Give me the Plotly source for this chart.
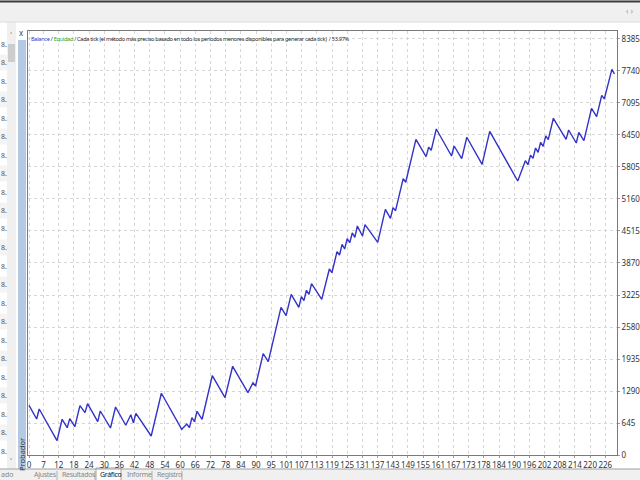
import plotly.graph_objects as go
import numpy as np

# ---- data ----
trade = [0, 3, 4, 11, 13, 15, 16, 18, 20, 22, 23, 27, 28, 32, 34, 38, 40, 41, 42, 48,
         52, 60, 62, 63, 64, 65, 66, 68, 72, 77, 80, 86, 88, 89, 92, 94, 99, 101, 103, 106,
         107, 108, 109, 110, 111, 115, 118, 119, 121, 122, 123, 124, 125, 126, 127, 128, 129, 131, 132, 137,
         140, 142, 143, 144, 147, 148, 152, 156, 157, 158, 160, 166, 167, 170, 172, 178, 181, 192, 195, 196,
         197, 198, 199, 200, 201, 202, 203, 204, 206, 211, 212, 215, 216, 218, 221, 223, 225, 226, 229, 230]
balance = [1000, 726, 927, 288, 720, 550, 732, 570, 994, 853, 1034, 671, 887, 544, 967, 599, 812, 651, 840, 383,
           1244, 518, 625, 550, 752, 671, 881, 720, 1598, 1155, 1788, 1256, 1457, 1391, 2042, 1881, 2977, 2808, 3239, 2977,
           3191, 3110, 3320, 3239, 3453, 3138, 3749, 3674, 4098, 4031, 4247, 4152, 4360, 4279, 4475, 4388, 4616, 4414, 4642, 4287,
           4952, 4771, 4985, 4924, 5569, 5497, 6363, 6013, 6202, 6141, 6571, 6027, 6228, 5972, 6404, 5859, 6524, 5523, 5932, 5851,
           6041, 5980, 6188, 6101, 6303, 6222, 6430, 6355, 6787, 6363, 6551, 6289, 6504, 6335, 6988, 6819, 7250, 7176, 7774, 7679]
x_tick_labels = ["0", "7", "12", "18", "24", "30", "36", "42", "48", "54", "60", "66", "72", "78", "84", "90", "95",
                 "101", "107", "113", "119", "125", "131", "137", "143", "149", "155", "161", "167", "173", "178",
                 "184", "190", "196", "202", "208", "214", "220", "226"]
y_tick_values = [0, 645, 1290, 1935, 2580, 3225, 3870, 4515, 5160, 5805, 6450, 7095, 7740, 8385]
tabs = ["Ajustes", "Resultados", "Gráfico", "Informe", "Registro"]
title_pct = "53.97%"

assert len(trade) == len(balance)

FONT = "Noto Sans, Liberation Sans, Arial, sans-serif"
W, H = 640, 480
L, R, T, B = 28, 617, 31, 455


def px(x):
    return (x - L) / (R - L)


def py(y):
    return (B - y) / (B - T)


def tight(s, sp=0.0):
    return '<span style="font-stretch:extra-condensed;letter-spacing:%spx">%s</span>' % (sp, s)


fig = go.Figure()
fig.add_trace(go.Scatter(x=trade, y=balance, mode="lines",
                         line=dict(color="#3333c8", width=1.4), hoverinfo="skip"))

# uniform tick spacing like the terminal's axis
tickpos = [0] + list(np.linspace(5.7, 226.4, len(x_tick_labels) - 1))

shapes = []
annots = []


def rect(x0, y0, x1, y1, fill, line=None):
    shapes.append(dict(type="rect", xref="paper", yref="paper",
                       x0=px(x0), x1=px(x1), y0=py(y1), y1=py(y0),
                       fillcolor=fill, line=dict(width=1 if line else 0, color=line or fill),
                       layer="below"))


def hline(x0, x1, y, color, w=1):
    shapes.append(dict(type="line", xref="paper", yref="paper",
                       x0=px(x0), x1=px(x1), y0=py(y), y1=py(y), line=dict(color=color, width=w)))


def text(x, y, s, size=8, color="#333", xanchor="left", angle=0, bg=None):
    d = dict(xref="paper", yref="paper", x=px(x), y=py(y), text=s, showarrow=False,
             xanchor=xanchor, yanchor="middle", textangle=angle,
             font=dict(family=FONT, size=size, color=color), borderpad=0)
    if bg:
        d["bgcolor"] = bg
    annots.append(d)


# top bar
rect(0, 0, 640, 22, "#f0f0f0")
hline(0, 640, 1.5, "#3c3c3c", 2)
hline(0, 640, 22, "#dcdcdc", 1)
text(630, 11, "‹ ›", size=8, color="#999", xanchor="center")

# left panel
rect(0, 22, 17, 470, "#ffffff")
for i in range(24):
    yy = 44 + i * 18.5
    if yy > 455:
        break
    rect(0, yy - 8, 7, yy + 8, "#f4f4f4" if i % 2 else "#ffffff")
    text(0, yy, tight("8."), size=7, color="#555")
rect(7, 22, 16, 470, "#f0f0f0")
rect(8, 44, 15, 62, "#cdcdcd")
text(11.5, 35, "˄", size=8, color="#666", xanchor="center")
text(11.5, 461, "˅", size=8, color="#666", xanchor="center")
text(21.5, 32, "x", size=8, color="#444", xanchor="center")
rect(18, 40, 26, 480, "#b4c9e3")
text(22, 455, tight("Probador"), size=7.5, color="#333", xanchor="center", angle=-90)

# bottom tab bar
rect(0, 469, 640, 480, "#f0f0f0")
hline(0, 640, 469, "#a0a0a0", 1)
rect(96, 468, 121, 481, "#ffffff", "#a0a0a0")
tab_x = [33, 61, 99, 126, 156]
for s, tx in zip(tabs, tab_x):
    text(tx, 474.5, tight(s, -0.3), size=7, color="#111" if s == "Gráfico" else "#888")
for sx in [57, 95, 152, 182]:
    shapes.append(dict(type="line", xref="paper", yref="paper", x0=px(sx), x1=px(sx),
                       y0=py(480), y1=py(471), line=dict(color="#b0b0b0", width=1)))
text(0, 474.5, tight("ado"), size=7, color="#888")

# chart caption
caption = ('<span style="color:#3333c8">Balance</span> / <span style="color:#2aa02a">Equidad</span>'
           ' / Cada tick (el método más preciso basado en todo los períodos menores disponibles para generar cada tick)'
           '  / ' + title_pct)
text(30, 39.5, tight(caption, -0.3), size=5.6, color="#222", bg="#ffffff")

tickfont = dict(family=FONT, size=8, color="#333")
fig.update_layout(
    width=W, height=H,
    margin=dict(l=L, r=W - R, t=T, b=H - B, pad=0, autoexpand=False),
    paper_bgcolor="#ffffff", plot_bgcolor="#ffffff",
    showlegend=False,
    shapes=shapes, annotations=annots,
    xaxis=dict(range=[-0.4, 231], tickmode="array", tickvals=tickpos, tickangle=0,
               ticktext=[tight(s) for s in x_tick_labels], automargin=False,
               showgrid=True, gridcolor="#d6d6d6", griddash="dot", gridwidth=1,
               showline=True, linecolor="#7a7a7a", linewidth=1, mirror=True,
               ticks="outside", ticklen=2, tickcolor="#9a9a9a", zeroline=False,
               tickfont=tickfont),
    yaxis=dict(range=[0, 8546], side="right", tickmode="array", tickvals=y_tick_values,
               ticktext=[tight(str(v)) for v in y_tick_values], automargin=False,
               showgrid=True, gridcolor="#d6d6d6", griddash="dot", gridwidth=1,
               showline=True, linecolor="#7a7a7a", linewidth=1, mirror=True,
               ticks="outside", ticklen=2, tickcolor="#9a9a9a", zeroline=False,
               tickfont=tickfont),
)

fig.write_html("out.html", config={"displayModeBar": False},
               post_script="document.body.style.margin='0';document.body.style.padding='0';")
